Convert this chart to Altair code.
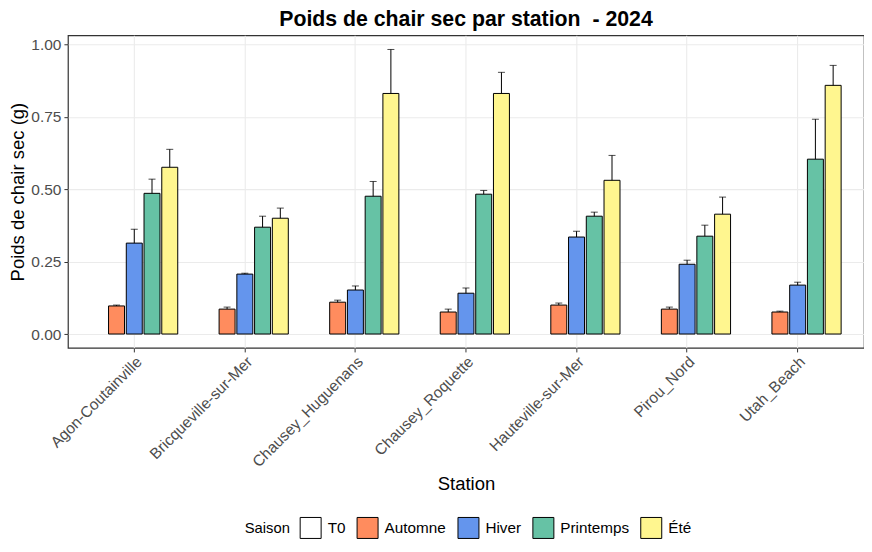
import altair as alt
import pandas as pd

stations = ["Agon-Coutainville", "Bricqueville-sur-Mer", "Chausey_Huguenans",
            "Chausey_Roquette", "Hauteville-sur-Mer", "Pirou_Nord", "Utah_Beach"]
saisons = ["T0", "Automne", "Hiver", "Printemps", "Été"]
colors = ["#FFFFFF", "#FF8C5E", "#6495ED", "#66C2A5", "#FFF68F"]

automne = [0.097, 0.086, 0.110, 0.076, 0.100, 0.086, 0.076]
automne_up = [0.100, 0.093, 0.117, 0.086, 0.107, 0.093, 0.079]
hiver = [0.314, 0.207, 0.152, 0.141, 0.335, 0.241, 0.169]
hiver_up = [0.362, 0.210, 0.166, 0.159, 0.355, 0.255, 0.179]
printemps = [0.486, 0.369, 0.476, 0.483, 0.407, 0.338, 0.604]
printemps_up = [0.535, 0.407, 0.527, 0.496, 0.421, 0.376, 0.742]
ete = [0.576, 0.400, 0.831, 0.831, 0.531, 0.414, 0.859]
ete_up = [0.638, 0.435, 0.983, 0.904, 0.617, 0.473, 0.928]

rows = []
for s, m, u in [("Automne", automne, automne_up), ("Hiver", hiver, hiver_up),
                ("Printemps", printemps, printemps_up), ("Été", ete, ete_up)]:
    for st, mv, uv in zip(stations, m, u):
        rows.append({"Station": st, "Saison": s, "mean": mv, "upper": uv})
df = pd.DataFrame(rows)

FONT = "Liberation Sans"

xenc = alt.X("Station:N", sort=stations,
             scale=alt.Scale(paddingInner=0, paddingOuter=0.1),
             axis=alt.Axis(title="Station", labelAngle=-45, labelAlign="right",
                           labelBaseline="top", bandPosition=0.5,
                           labelFontSize=15.5, labelColor="#4D4D4D",
                           titleFontSize=18.5, titleFontWeight="normal",
                           titleColor="black", tickColor="#333333",
                           tickSize=4, labelPadding=2, domain=False,
                           grid=True, gridColor="#EBEBEB", gridWidth=1.1,
                           titlePadding=4))
xoff = alt.XOffset("Saison:N", sort=saisons,
                   scale=alt.Scale(domain=saisons, paddingInner=0.1, paddingOuter=0.666))

yscale = alt.Scale(domain=[-0.048, 1.032], nice=False, zero=False)
major = "datum.value * 4 % 1 == 0"
yaxis = alt.Axis(title="Poids de chair sec (g)",
                 values=[0, 0.125, 0.25, 0.375, 0.5, 0.625, 0.75, 0.875, 1.0],
                 labelExpr=f"{major} ? format(datum.value, '.2f') : ''",
                 labelFontSize=15.5, labelColor="#4D4D4D",
                 titleFontSize=18.5, titleFontWeight="normal", titleColor="black",
                 tickColor="#333333", tickSize=4, labelPadding=3,
                 tickOpacity=alt.condition(major, alt.value(1), alt.value(0)),
                 domain=False, grid=True, gridColor="#EBEBEB",
                 gridWidth=alt.condition(major, alt.value(1.1), alt.value(0.55)),
                 titlePadding=3)

base = alt.Chart(df).encode(x=xenc, xOffset=xoff)

bars = base.mark_bar(stroke="black", strokeWidth=1).encode(
    y=alt.Y("mean:Q", scale=yscale, axis=yaxis),
    y2=alt.datum(0),
    fill=alt.Fill("Saison:N", scale=alt.Scale(domain=saisons, range=colors),
                  legend=alt.Legend(title="Saison", orient="none",
                                    legendX=177, legendY=482,
                                    direction="horizontal", titleOrient="left",
                                    symbolType="square", symbolSize=441,
                                    symbolStrokeColor="black", symbolStrokeWidth=1,
                                    labelFontSize=15.3, titleFontSize=14.8,
                                    titleFontWeight="normal", labelColor="black",
                                    titleColor="black", columnPadding=9,
                                    labelOffset=6, titlePadding=9)),
)

err = base.mark_rule(color="black", strokeWidth=1).encode(
    y=alt.Y("mean:Q", scale=yscale), y2="upper:Q")
cap = base.mark_tick(color="black", thickness=1, size=7, orient="horizontal").encode(
    y=alt.Y("upper:Q", scale=yscale))

chart = alt.layer(bars, err, cap).properties(
    width=797, height=313, padding=0,
    title=alt.TitleParams("Poids de chair sec par station\u00a0 - 2024", fontSize=21.3,
                          fontWeight="bold", font=FONT, anchor="middle",
                          frame="group", offset=2, dy=-3, color="black"),
).configure(font=FONT).configure_view(stroke="#333333", strokeWidth=1.2)

chart.save("out.html", embed_options={"renderer": "svg", "actions": False})
